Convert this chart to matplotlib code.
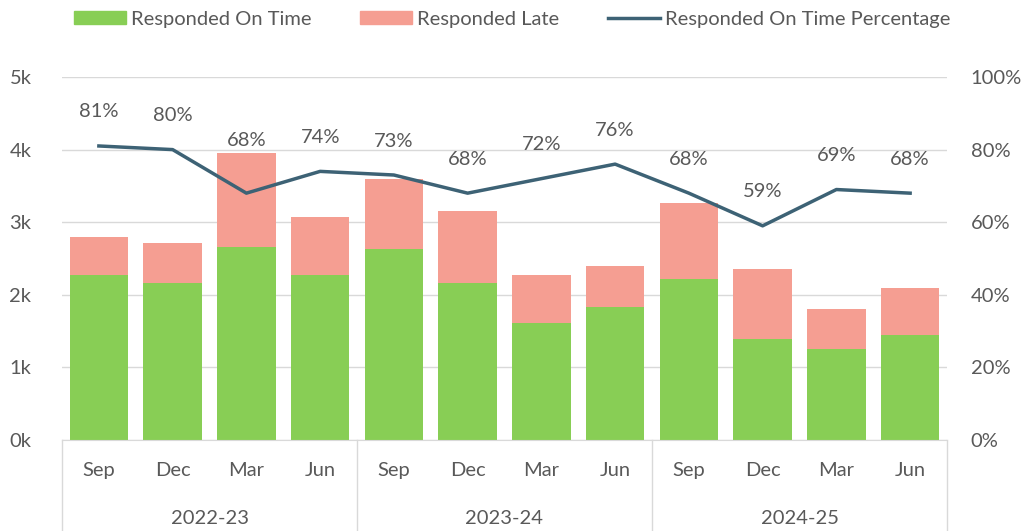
import numpy as np
import matplotlib
matplotlib.use("Agg")
import matplotlib.pyplot as plt
from matplotlib.patches import Patch
from matplotlib.lines import Line2D

months = ['Sep', 'Dec', 'Mar', 'Jun'] * 3
years = ['2022-23', '2023-24', '2024-25']
on_time = [2270, 2160, 2660, 2270, 2630, 2160, 1610, 1830, 2220, 1390, 1250, 1440]
total = [2790, 2710, 3950, 3070, 3600, 3150, 2270, 2400, 3260, 2350, 1800, 2100]
late = [t - o for t, o in zip(total, on_time)]
pct = [81, 80, 68, 74, 73, 68, 72, 76, 68, 59, 69, 68]

green = '#88CE55'
salmon = '#F59E92'
navy = '#3D6275'
txt = '#595959'
grid = '#D9D9D9'
fs = 14.5

plt.rcParams['font.family'] = ['Lato', 'DejaVu Sans']

fig = plt.figure(figsize=(10.23, 5.31), dpi=100)
ax = fig.add_axes([62/1023, 91/531, 885/1023, 363/531])
x = np.arange(len(months))

ax.bar(x, on_time, width=0.79, color=green, zorder=2)
ax.bar(x, late, bottom=on_time, width=0.79, color=salmon, zorder=2)
ax.set_xlim(-0.5, len(months) - 0.5)
ax.set_ylim(0, 5000)
ax.set_yticks(np.arange(0, 5001, 1000))
ax.set_yticklabels(['%dk' % (v // 1000) for v in range(0, 5001, 1000)])
ax.yaxis.grid(True, color=grid, lw=1, zorder=0)
ax.set_xticks([])
for s in ['top', 'right', 'left']:
    ax.spines[s].set_visible(False)
ax.spines['bottom'].set_color(grid)
ax.tick_params(axis='y', length=0, pad=22, labelsize=fs, labelcolor=txt)

ax2 = ax.twinx()
ax2.plot(x, pct, color=navy, lw=2.5, zorder=3)
ax2.set_ylim(0, 100)
ax2.set_yticks(np.arange(0, 101, 20))
ax2.set_yticklabels(['%d%%' % v for v in range(0, 101, 20)])
ax2.tick_params(axis='y', length=0, pad=17, labelsize=fs, labelcolor=txt)
for s in ax2.spines.values():
    s.set_visible(False)

offsets = [34] * len(pct)
offsets[2] = 53
for xi, p, off in zip(x, pct, offsets):
    ax2.annotate('%d%%' % p, (xi, p), xytext=(0, off * 0.72), textcoords='offset points',
                 ha='center', va='center', fontsize=fs, color=txt)

# two-level category axis
for xi, m in zip(x, months):
    ax.text(xi, -0.085, m, transform=ax.get_xaxis_transform(), ha='center', va='center',
            fontsize=fs, color=txt)
for i, yr in enumerate(years):
    ax.text(i * 4 + 1.5, -0.215, yr, transform=ax.get_xaxis_transform(), ha='center',
            va='center', fontsize=fs, color=txt)
for b in [-0.5, 3.5, 7.5, 11.5]:
    ax.plot([b, b], [0, -0.26], transform=ax.get_xaxis_transform(), color=grid, lw=1,
            clip_on=False)

handles = [Patch(color=green), Patch(color=salmon), Line2D([], [], color=navy, lw=2.5)]
labels = ['Responded On Time', 'Responded Late', 'Responded On Time Percentage']
fig.legend(handles, labels, loc='center', bbox_to_anchor=(512/1023, 1 - 19/531), ncol=3,
           frameon=False, fontsize=fs, labelcolor=txt, handlelength=2.6, handleheight=0.65,
           handletextpad=0.25, columnspacing=2.4)

fig.savefig('out.png', dpi=100)
